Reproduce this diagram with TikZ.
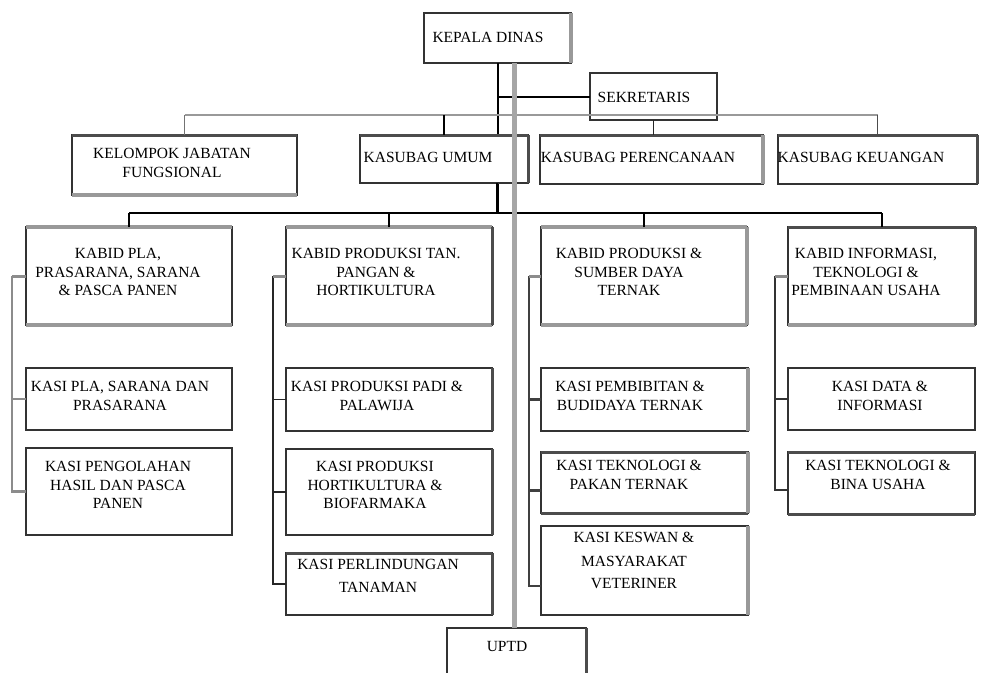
\documentclass[tikz,border=0pt]{standalone}
\usepackage{fontspec}
\setmainfont{Liberation Serif}
\begin{document}
\begin{tikzpicture}[x=1pt,y=-1pt,
  box/.style={draw=black!80,line width=1.2pt,fill=white,inner sep=0pt,outer sep=0pt,anchor=north west},
  txt/.style={align=center,inner sep=0pt,font=\fontsize{15.5}{18.5}\selectfont},
  blk/.style={draw=black,line width=2pt},
  thin/.style={draw=black!85,line width=1.2pt},
  gline/.style={draw=black!40,line width=2.6pt},
  gthick/.style={draw=black!35,line width=5pt},
  gedge/.style={draw=black!40,line width=3.5pt},
  dedge/.style={draw=black!70,line width=3pt},
  stub/.style={draw=black!45,line width=3pt}]
\clip (0,0) rectangle (984,672);
\fill[white] (0,0) rectangle (984,672);
% helper coordinates
\coordinate (bus) at (497,213);
\coordinate (gbus) at (0,115);
\coordinate (gx) at (514,0);
% ---------- boxes ----------
\node[box,minimum width=147pt,minimum height=50pt] (kepala) at (424,13) {};
\node[box,minimum width=127pt,minimum height=47pt] (sek) at (590,73) {};
% black trunk behind the boxes
\draw[blk] (kepala.south) -- (kepala.south |- bus);
\draw[blk] (kepala.south |- sek.west) -- (sek.west);
\node[box,minimum width=225pt,minimum height=60pt] (kel) at (72,135) {};
\node[box,minimum width=168pt,minimum height=48pt] (umum) at (360,135) {};
\node[box,minimum width=223pt,minimum height=49pt] (ren) at (540,135) {};
\node[box,minimum width=199pt,minimum height=49pt] (keu) at (778,135) {};
\node[box,minimum width=206pt,minimum height=98pt] (b1) at (26,227) {};
\node[box,minimum width=206pt,minimum height=98pt] (b2) at (286,227) {};
\node[box,minimum width=206pt,minimum height=98pt] (b3) at (541,227) {};
\node[box,minimum width=187pt,minimum height=98pt] (b4) at (788,227) {};
\node[box,minimum width=206pt,minimum height=62pt] (k11) at (26,368) {};
\node[box,minimum width=206pt,minimum height=87pt] (k12) at (26,448) {};
\node[box,minimum width=206pt,minimum height=63pt] (k21) at (286,368) {};
\node[box,minimum width=206pt,minimum height=86pt] (k22) at (286,449) {};
\node[box,minimum width=206pt,minimum height=62pt] (k23) at (286,553) {};
\node[box,minimum width=207pt,minimum height=63pt] (k31) at (541,368) {};
\node[box,minimum width=207pt,minimum height=61pt] (k32) at (541,452) {};
\node[box,minimum width=207pt,minimum height=89pt] (k33) at (541,526) {};
\node[box,minimum width=187pt,minimum height=62pt] (k41) at (788,368) {};
\node[box,minimum width=187pt,minimum height=62pt] (k42) at (788,452) {};
\node[box,minimum width=139pt,minimum height=60pt] (uptd) at (447,628) {};
% ---------- box edge accents ----------
\draw[gedge] (kepala.north east) -- (kepala.south east);
\draw[gedge] (kel.south west) -- (kel.south east);
\draw[dedge] (kel.north west) -- (kel.north east);
\draw[dedge] (umum.north west) -- (umum.north east);
\draw[dedge] (umum.north east) -- (umum.south east);
\draw[dedge] (ren.north west) -- (ren.north east);
\draw[gedge] (ren.north east) -- (ren.south east);
\draw[dedge] (keu.north west) -- (keu.north east);
\draw[dedge] (keu.north east) -- (keu.south east);
\foreach \b in {b1,b2,b3}{
  \draw[gedge] (\b.north west) -- (\b.north east);
  \draw[gedge] (\b.south west) -- (\b.south east);
}
\draw[gedge] (b3.north east) -- (b3.south east);
\draw[dedge] (b2.north east) -- (b2.south east);
\draw[dedge] (b4.north west) -- (b4.north east);
\draw[gedge] (b4.south west) -- (b4.south east);
\draw[dedge] (b4.north east) -- (b4.south east);
\draw[dedge] (k21.north east) -- (k21.south east);
\draw[dedge] (k22.north east) -- (k22.south east);
\draw[dedge] (k23.north west) -- (k23.north east);
\draw[dedge] (k23.north east) -- (k23.south east);
\draw[gedge] (k31.north east) -- (k31.south east);
\draw[dedge] (k32.north west) -- (k32.north east);
\draw[dedge] (k32.south west) -- (k32.south east);
\draw[gedge] (k32.north east) -- (k32.south east);
\draw[gedge] (k33.north east) -- (k33.south east);
\draw[dedge] (k42.north west) -- (k42.north east);
\draw[dedge] (k42.south west) -- (k42.south east);
\draw[dedge] (uptd.north east) -- (uptd.south east);
% ---------- connectors ----------
% black bus to the KABID boxes
\draw[blk] (umum.south -| bus) -- (bus);
\draw[blk,line width=2.6pt] (b1.north |- bus) -- (b4.north |- bus);
\foreach \b in {b1,b2,b3,b4}{ \draw[blk] (\b.north |- bus) -- (\b.north); }
% gray bus to the KASUBAG row
\draw[gline] (kel.north |- gbus) -- (keu.north |- gbus);
\draw[thin,draw=black!55] (kel.north |- gbus) -- (kel.north);
\draw[blk] (umum.north |- gbus) -- (umum.north);
\draw[thin,draw=black!70] (keu.north |- gbus) -- (keu.north);
\draw[thin] (sek.south) -- (sek.south |- ren.north);
% gray trunk to UPTD
\draw[gthick] (kepala.south -| gx) -- (uptd.north -| gx);
% column side lines
\draw[draw=black!45,line width=2.6pt] (b1.west) ++(-14,0) |- (k12.west);
\draw[stub] (b1.west) -- ++(-14,0);
\draw[draw=black!45,line width=2.6pt] (k11.west) -- ++(-14,0);
\draw[draw=black!85,line width=1.4pt] (b2.west) ++(-13,0) |- (k23.west);
\draw[stub] (b2.west) -- ++(-13,0);
\draw[draw=black!85,line width=1.4pt] (k21.west) -- ++(-13,0);
\draw[draw=black!85,line width=1.4pt] (k22.west) -- ++(-13,0);
\draw[draw=black!75,line width=2.4pt] (b3.west) ++(-12,0) |- ([yshift=-15.5pt]k33.west);
\draw[stub] (b3.west) -- ++(-12,0);
\draw[draw=black!75,line width=2.4pt] (k31.west) -- ++(-12,0);
\draw[draw=black!75,line width=2.4pt] ([yshift=-8pt]k32.west) -- ++(-12,0);
\draw[draw=black!80,line width=2.2pt] (b4.west) ++(-13,0) |- ([yshift=-7pt]k42.west);
\draw[stub] (b4.west) -- ++(-13,0);
\draw[draw=black!80,line width=2.2pt] (k41.west) -- ++(-13,0);
% ---------- texts ----------
\node[txt] (tkepala) at (488,37) {KEPALA DINAS};
\node[txt] (tsek) at (644,97) {SEKRETARIS};
\node[txt] (tkel) at (172,163) {KELOMPOK JABATAN\\FUNGSIONAL};
\node[txt] (tumum) at (428,157.5) {KASUBAG UMUM};
\node[txt] (tren) at (638,157.5) {KASUBAG PERENCANAAN};
\node[txt] (tkeu) at (861,157.5) {KASUBAG KEUANGAN};
\node[txt] (tb1) at (118,272) {KABID PLA,\\PRASARANA, SARANA\\\& PASCA PANEN};
\node[txt] (tb2) at (376,272) {KABID PRODUKSI TAN.\\PANGAN \&\\HORTIKULTURA};
\node[txt] (tb3) at (629,272) {KABID PRODUKSI \&\\SUMBER DAYA\\TERNAK};
\node[txt] (tb4) at (866,272) {KABID INFORMASI,\\TEKNOLOGI \&\\PEMBINAAN USAHA};
\node[txt] (tk11) at (120,396) {KASI PLA, SARANA DAN\\PRASARANA};
\node[txt] (tk12) at (118,485) {KASI PENGOLAHAN\\HASIL DAN PASCA\\PANEN};
\node[txt] (tk21) at (377,396) {KASI PRODUKSI PADI \&\\PALAWIJA};
\node[txt] (tk22) at (375,485) {KASI PRODUKSI\\HORTIKULTURA \&\\BIOFARMAKA};
\node[txt] (tk23) at (378,576) {KASI PERLINDUNGAN\\[4pt]TANAMAN};
\node[txt] (tk31) at (630,396) {KASI PEMBIBITAN \&\\BUDIDAYA TERNAK};
\node[txt] (tk32) at (629,475) {KASI TEKNOLOGI \&\\PAKAN TERNAK};
\node[txt] (tk33) at (634,560) {KASI KESWAN \&\\[6pt]MASYARAKAT\\[3pt]VETERINER};
\node[txt] (tk41) at (880,396) {KASI DATA \&\\INFORMASI};
\node[txt] (tk42) at (878,475) {KASI TEKNOLOGI \&\\BINA USAHA};
\node[txt] (tuptd) at (507,646) {UPTD};
\end{tikzpicture}
\end{document}
